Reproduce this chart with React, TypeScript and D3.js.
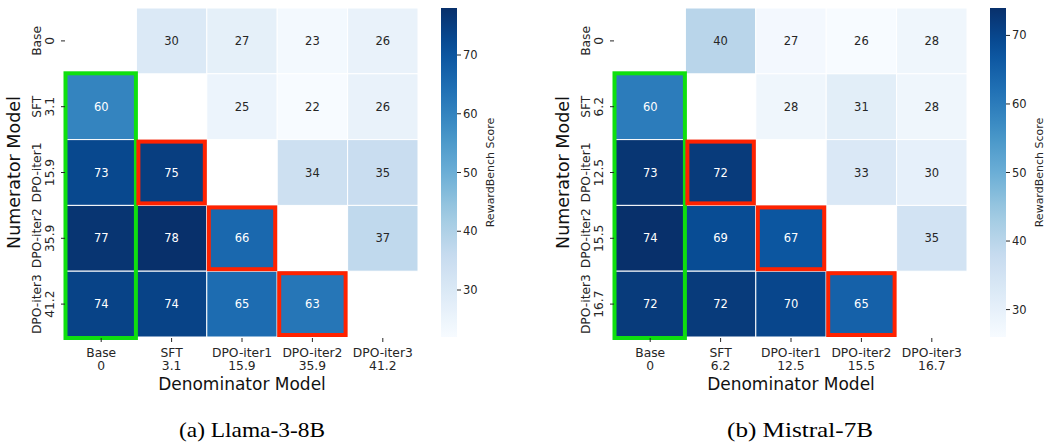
import React from "react";
import * as d3 from "d3";

const models = ["Base", "SFT", "DPO-iter1", "DPO-iter2", "DPO-iter3"];
const llamaScores = ["0", "3.1", "15.9", "35.9", "41.2"];
const mistralScores = ["0", "6.2", "12.5", "15.5", "16.7"];

const NaNv = NaN;
const llamaRows: number[][] = [
  [NaNv, 30, 27, 23, 26],
  [60, NaNv, 25, 22, 26],
  [73, 75, NaNv, 34, 35],
  [77, 78, 66, NaNv, 37],
  [74, 74, 65, 63, NaNv],
];
const mistralRows: number[][] = [
  [NaNv, 40, 27, 26, 28],
  [60, NaNv, 28, 31, 28],
  [73, 72, NaNv, 33, 30],
  [74, 69, 67, NaNv, 35],
  [72, 72, 70, 65, NaNv],
];
const colorbarTicks = [30, 40, 50, 60, 70];
// highlighted cells: [row, col]
const redCells: [number, number][] = [
  [2, 1],
  [3, 2],
  [4, 3],
];
const greenColumn = { col: 0, rowStart: 1, rowEnd: 4 };

const blues = ["#f7fbff", "#deebf7", "#c6dbef", "#9ecae1", "#6baed6", "#4292c6", "#2171b5", "#08519c", "#08306b"];

function luminance(c: string) {
  const rgb = d3.rgb(c);
  const f = (v: number) => {
    const s = v / 255;
    return s <= 0.03928 ? s / 12.92 : Math.pow((s + 0.055) / 1.055, 2.4);
  };
  return 0.2126 * f(rgb.r) + 0.7152 * f(rgb.g) + 0.0722 * f(rgb.b);
}

const FONT = "DejaVu Sans, Liberation Sans, sans-serif";

function Panel({ x0, rows, scores, caption, captionX, id }: any) {
  const y0 = 8;
  const cw = 70.4;
  const ch = 65.8;
  const n = models.length;
  const xScale = d3.scaleBand<number>().domain(d3.range(n)).range([x0, x0 + cw * n]);
  const yScale = d3.scaleBand<number>().domain(d3.range(n)).range([y0, y0 + ch * n]);
  const all = rows.flat().filter((v: number) => !isNaN(v));
  const vmin = d3.min(all) as number;
  const vmax = d3.max(all) as number;
  const stops = d3.range(blues.length).map((i) => vmin + ((vmax - vmin) * i) / (blues.length - 1));
  const color = d3.scaleLinear<string>().domain(stops).range(blues).interpolate(d3.interpolateRgb);

  const cbX = x0 + cw * n + 23;
  const cbW = 16;
  const cbScale = d3.scaleLinear().domain([vmin, vmax]).range([y0 + ch * n, y0]);
  const gradStops = d3.range(21).map((i) => i / 20);

  const bottom = y0 + ch * n;
  return (
    <g>
      <defs>
        <linearGradient id={"grad" + id} x1="0" y1="1" x2="0" y2="0">
          {gradStops.map((t) => (
            <stop key={t} offset={t} stopColor={color(vmin + t * (vmax - vmin))} />
          ))}
        </linearGradient>
      </defs>
      {rows.map((row: number[], r: number) =>
        row.map((v: number, c: number) => {
          if (isNaN(v)) return null;
          const fill = color(v);
          const txt = luminance(fill) > 0.408 ? "#262626" : "#ffffff";
          return (
            <g key={r + "-" + c}>
              <rect x={xScale(c)} y={yScale(r)} width={xScale.bandwidth()} height={yScale.bandwidth()} fill={fill} stroke="#ffffff" strokeWidth={1} />
              <text x={(xScale(c) as number) + cw / 2} y={(yScale(r) as number) + ch / 2} textAnchor="middle" dominantBaseline="central" fontSize={11.5} fill={txt} fontFamily={FONT}>
                {Math.round(v)}
              </text>
            </g>
          );
        })
      )}
      {/* green box */}
      <rect
        x={(xScale(greenColumn.col) as number) - 0.5}
        y={(yScale(greenColumn.rowStart) as number) - 0.5}
        width={cw}
        height={ch * (greenColumn.rowEnd - greenColumn.rowStart + 1) + 1.5}
        fill="none"
        stroke="#0fdf0f"
        strokeWidth={4}
      />
      {redCells.map(([r, c]) => (
        <rect key={"red" + r + c} x={(xScale(c) as number) + 2} y={(yScale(r) as number) + 2} width={cw - 4} height={ch - 4} fill="none" stroke="#ff2200" strokeWidth={4} />
      ))}
      {/* y ticks */}
      {models.map((m, i) => {
        const cy = (yScale(i) as number) + ch / 2;
        return (
          <g key={"yt" + i} fontFamily={FONT} fontSize={12.3} fill="#262626">
            <line x1={x0 - 5} x2={x0 - 1} y1={cy} y2={cy} stroke="#262626" strokeWidth={1} />
            <text transform={`translate(${x0 - 29},${cy}) rotate(-90)`} textAnchor="middle" dominantBaseline="central">
              {m}
            </text>
            <text transform={`translate(${x0 - 16.5},${cy}) rotate(-90)`} textAnchor="middle" dominantBaseline="central">
              {scores[i]}
            </text>
          </g>
        );
      })}
      {/* x ticks */}
      {models.map((m, i) => {
        const cx = (xScale(i) as number) + cw / 2;
        return (
          <g key={"xt" + i} fontFamily={FONT} fontSize={12.3} fill="#262626">
            <line x1={cx} x2={cx} y1={bottom + 1} y2={bottom + 5} stroke="#262626" strokeWidth={1} />
            <text x={cx} y={bottom + 15.5} textAnchor="middle" dominantBaseline="central">
              {m}
            </text>
            <text x={cx} y={bottom + 29} textAnchor="middle" dominantBaseline="central">
              {scores[i]}
            </text>
          </g>
        );
      })}
      <text x={x0 + (cw * n) / 2} y={bottom + 46.5} textAnchor="middle" dominantBaseline="central" fontSize={17} fontFamily={FONT} fill="#111">
        Denominator Model
      </text>
      <text transform={`translate(${x0 - 52},${y0 + (ch * n) / 2}) rotate(-90)`} textAnchor="middle" dominantBaseline="central" fontSize={17.5} fontFamily={FONT} fill="#111">
        Numerator Model
      </text>
      {/* colorbar */}
      <rect x={cbX} y={y0} width={cbW} height={ch * n} fill={`url(#grad${id})`} />
      {colorbarTicks.map((t) => (
        <g key={"cb" + t} fontFamily={FONT} fontSize={11.5} fill="#262626">
          <line x1={cbX + cbW} x2={cbX + cbW + 4} y1={cbScale(t)} y2={cbScale(t)} stroke="#262626" strokeWidth={1} />
          <text x={cbX + cbW + 6} y={cbScale(t)} dominantBaseline="central">
            {t}
          </text>
        </g>
      ))}
      <text transform={`translate(${cbX + cbW + 33},${y0 + (ch * n) / 2}) rotate(-90)`} textAnchor="middle" dominantBaseline="central" fontSize={11} fontFamily={FONT} fill="#262626">
        RewardBench Score
      </text>
      <text x={captionX} y={437} textAnchor="middle" fontSize={22} textLength={146} lengthAdjust="spacingAndGlyphs" fontFamily="Liberation Serif, Times New Roman, serif" fill="#000">
        {caption}
      </text>
    </g>
  );
}

export default function App() {
  return (
    <svg width={1049} height={444} style={{ position: "absolute", left: 0, top: 0, background: "#fff" }}>
      <rect width={1049} height={444} fill="#fff" />
      <Panel id="a" x0={66} rows={llamaRows} scores={llamaScores} caption="(a) Llama-3-8B" captionX={252} />
      <Panel id="b" x0={615} rows={mistralRows} scores={mistralScores} caption="(b) Mistral-7B" captionX={800} />
    </svg>
  );
}
